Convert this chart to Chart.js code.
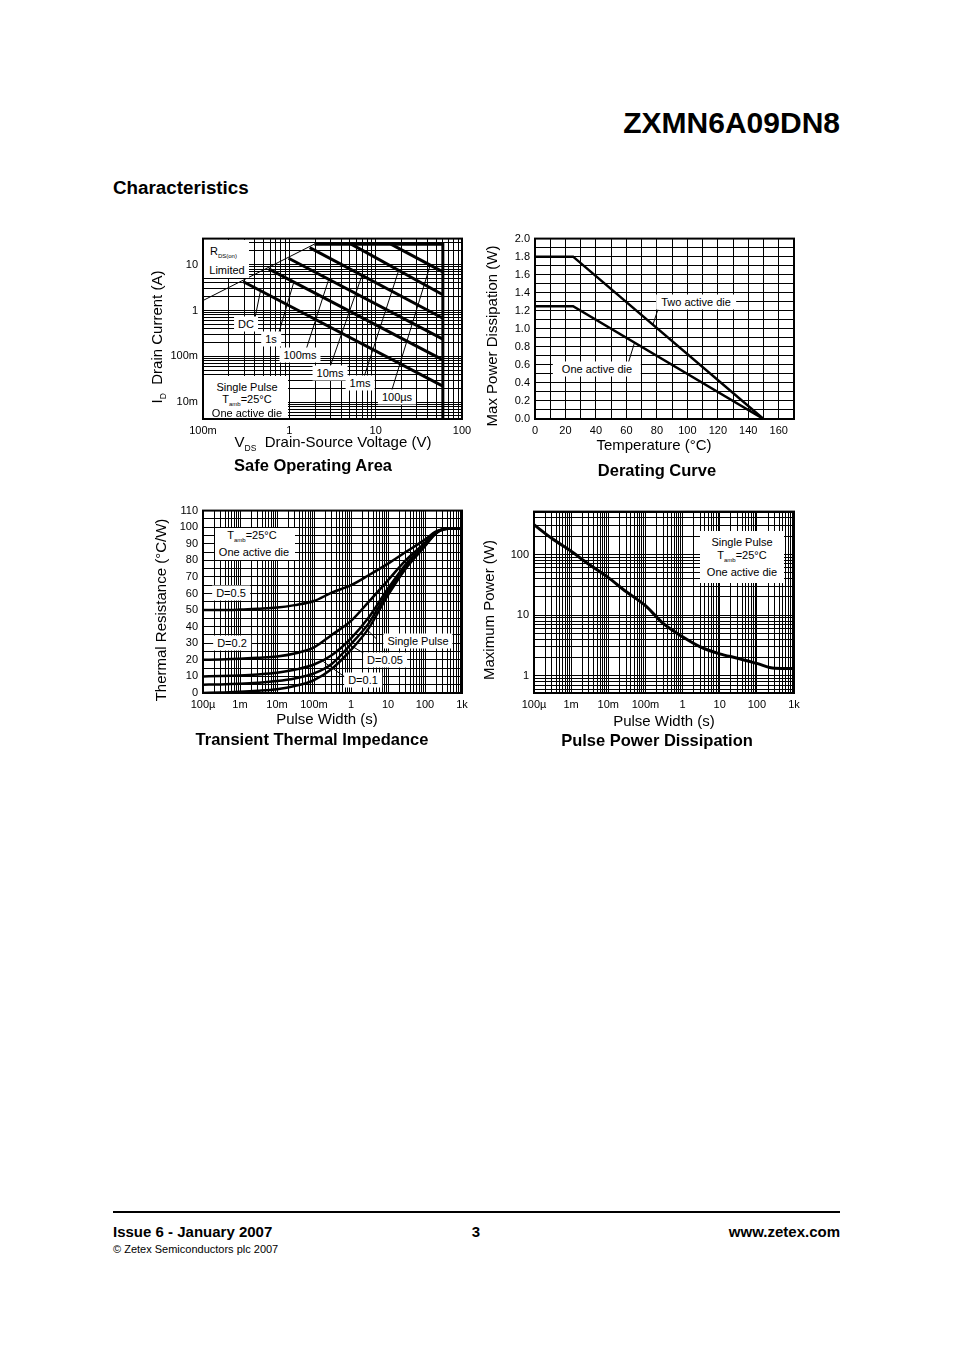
<!DOCTYPE html>
<html>
<head>
<meta charset="utf-8">
<script src="https://cdn.jsdelivr.net/npm/chart.js@4.4.1/dist/chart.umd.min.js"></script>
<style>
html,body{margin:0;padding:0;background:#fff;}
#page{position:relative;width:954px;height:1350px;overflow:hidden;font-family:"Liberation Sans",Arial,Helvetica,sans-serif;color:#000;}
#page canvas{position:absolute;}
.t{position:absolute;white-space:nowrap;line-height:1;}
.c{transform:translate(-50%,-50%);}
.r{transform:translate(-100%,-50%);}
.l{transform:translate(0,-50%);}
.rot{transform:translate(-50%,-50%) rotate(-90deg);}
.box{position:absolute;background:#fff;}
.lab{background:#fff;padding:2px 4px;font-size:11px;}
.a11{font-size:11px;}
.sb{font-size:6px;vertical-align:-3px;}
.sb2{font-size:8.5px;vertical-align:-4px;}
.axt{font-size:15px;}
.ttl{font-size:16.5px;font-weight:bold;}
</style>
</head>
<body>
<div id="page">
  <canvas id="soa"></canvas>
  <canvas id="derating"></canvas>
  <canvas id="tti"></canvas>
  <canvas id="ppd"></canvas>

  <!-- header -->
  <div class="t r" style="left:840px;top:123px;font-size:30px;font-weight:bold;">ZXMN6A09DN8</div>
  <div class="t l" style="left:113px;top:188px;font-size:18.8px;font-weight:bold;">Characteristics</div>

  <!-- SOA annotations -->
  <div class="box" style="left:204px;top:240px;width:45px;height:38px;"></div>
  <div class="t a11" style="left:210px;top:246px;">R<span class="sb">DS(on)</span></div>
  <div class="t c a11" style="left:227px;top:270px;">Limited</div>
  <div class="box" style="left:204px;top:376px;width:84px;height:42px;"></div>
  <div class="t c a11" style="left:247px;top:387px;">Single Pulse</div>
  <div class="t c a11" style="left:247px;top:400px;">T<span class="sb">amb</span>=25°C</div>
  <div class="t c a11" style="left:247px;top:413px;">One active die</div>
  <div class="t c lab" style="left:246px;top:324px;">DC</div>
  <div class="t c lab" style="left:271px;top:339px;">1s</div>
  <div class="t c lab" style="left:300px;top:354.5px;">100ms</div>
  <div class="t c lab" style="left:330px;top:372.5px;">10ms</div>
  <div class="t c lab" style="left:360px;top:382.5px;">1ms</div>
  <div class="t c lab" style="left:397px;top:397px;">100µs</div>
  <div class="t rot axt" style="left:158px;top:337px;">I<span class="sb2">D</span>&nbsp;&nbsp;Drain Current (A)</div>
  <div class="t c axt" style="left:333px;top:443px;">V<span class="sb2">DS</span>&nbsp;&nbsp;Drain-Source Voltage (V)</div>
  <div class="t c ttl" style="left:313px;top:465px;">Safe Operating Area</div>

  <!-- Derating annotations -->
  <div class="t c lab" style="left:696px;top:301.5px;padding:2px 5px;">Two active die</div>
  <div class="t c lab" style="left:597px;top:368.5px;padding:2px 9px;">One active die</div>
  <div class="t rot axt" style="left:491px;top:336px;">Max Power Dissipation (W)</div>
  <div class="t c axt" style="left:654px;top:444px;">Temperature (°C)</div>
  <div class="t c ttl" style="left:657px;top:470px;">Derating Curve</div>

  <!-- TTI annotations -->
  <div class="box" style="left:215px;top:528px;width:80px;height:32px;"></div>
  <div class="t c a11" style="left:252px;top:536px;">T<span class="sb">amb</span>=25°C</div>
  <div class="t c a11" style="left:254px;top:552px;">One active die</div>
  <div class="t c lab" style="left:231px;top:593px;">D=0.5</div>
  <div class="t c lab" style="left:232px;top:642.5px;">D=0.2</div>
  <div class="t c lab" style="left:418px;top:641px;">Single Pulse</div>
  <div class="t c lab" style="left:385px;top:660px;">D=0.05</div>
  <div class="t c lab" style="left:363px;top:680px;">D=0.1</div>
  <div class="t rot axt" style="left:160px;top:610px;">Thermal Resistance (°C/W)</div>
  <div class="t c axt" style="left:327px;top:718px;">Pulse Width (s)</div>
  <div class="t c ttl" style="left:312px;top:739px;">Transient Thermal Impedance</div>

  <!-- PPD annotations -->
  <div class="box" style="left:700px;top:531px;width:84px;height:52px;"></div>
  <div class="t c a11" style="left:742px;top:541.5px;">Single Pulse</div>
  <div class="t c a11" style="left:742px;top:556px;">T<span class="sb">amb</span>=25°C</div>
  <div class="t c a11" style="left:742px;top:572px;">One active die</div>
  <div class="t rot axt" style="left:488px;top:610px;">Maximum Power (W)</div>
  <div class="t c axt" style="left:664px;top:720px;">Pulse Width (s)</div>
  <div class="t c ttl" style="left:657px;top:740px;">Pulse Power Dissipation</div>

  <!-- footer -->
  <div style="position:absolute;left:113px;top:1211px;width:727px;height:2px;background:#000;"></div>
  <div class="t l" style="left:113px;top:1231px;font-size:15px;font-weight:bold;">Issue 6 - January 2007</div>
  <div class="t c" style="left:476px;top:1231px;font-size:15px;font-weight:bold;">3</div>
  <div class="t r" style="left:840px;top:1231px;font-size:15px;font-weight:bold;">www.zetex.com</div>
  <div class="t l" style="left:113px;top:1249px;font-size:11px;">© Zetex Semiconductors plc 2007</div>
</div>

<script>
// ---------------- DATA ----------------
// Safe Operating Area (V in volts, I in amps)
const soaRdsV = [0.1, 1.95];
const soaRdsI = [1.65, 28];
const soaLimitV = [1.95, 60, 60];
const soaLimitI = [28, 28, 0.004];
const soaPulseNames = ['DC', '1s', '100ms', '10ms', '1ms', '100µs'];
const soaPulseStartV = [0.29, 0.575, 0.98, 1.72, 5.2, 15];
const soaPulseStartI = [4.3, 8.1, 13.8, 23.5, 28, 28];
const soaPulseEndV = [60, 60, 60, 60, 60, 60];
const soaPulseEndI = [0.0225, 0.084, 0.237, 0.676, 2.2, 6.95];
const soaLeaderFromV = [0.387, 0.752, 1.53, 2.98, 7.23, 15.4];
const soaLeaderFromI = [0.506, 0.319, 0.124, 0.0608, 0.0328, 0.0184];
const soaLeaderToV = [0.462, 1.12, 2.85, 6.92, 18.4, 42.7];
const soaLeaderToI = [2.6, 4.0, 4.7, 5.7, 7.3, 9.5];
const soaXTickValues = [0.1, 1, 10, 100];
const soaXTickLabels = ['100m', '1', '10', '100'];
const soaYTickValues = [0.01, 0.1, 1, 10];
const soaYTickLabels = ['10m', '100m', '1', '10'];

// Derating curve (temperature °C, power W)
const deratingTemp = [0, 25, 150];
const deratingTwoDie = [1.8, 1.8, 0];
const deratingOneDie = [1.25, 1.25, 0];
const deratingLeaderFromT = [77.4, 61.2];
const deratingLeaderFromP = [1.045, 0.62];
const deratingLeaderToT = [80.7, 65.3];
const deratingLeaderToP = [1.215, 0.845];
const deratingXTickValues = [0, 20, 40, 60, 80, 100, 120, 140, 160];
const deratingXTickLabels = ['0', '20', '40', '60', '80', '100', '120', '140', '160'];
const deratingYTickValues = [0, 0.2, 0.4, 0.6, 0.8, 1.0, 1.2, 1.4, 1.6, 1.8, 2.0];
const deratingYTickLabels = ['0.0', '0.2', '0.4', '0.6', '0.8', '1.0', '1.2', '1.4', '1.6', '1.8', '2.0'];

// Transient thermal impedance (pulse width s, °C/W)
const ttiPulseWidth = [1e-4, 3e-4, 1e-3, 3e-3, 1e-2, 3e-2, 0.1, 0.3, 1, 3, 10, 30, 100, 200, 400, 1000];
const ttiD05   = [50, 50, 50.3, 50.8, 51.5, 53, 55.5, 60.5, 65, 71, 78, 85, 92.5, 97.5, 99, 99];
const ttiD02   = [20, 20.2, 20.6, 21.2, 22, 23.8, 27.5, 35, 43.5, 55, 68, 80, 90.5, 97, 99, 99];
const ttiD01   = [10, 10.2, 10.6, 11.2, 12.2, 14, 17.2, 22.8, 33, 45.5, 63, 77.5, 89.5, 96.5, 99, 99];
const ttiD005  = [5, 5.2, 5.6, 6.2, 7.2, 8.8, 11.8, 17.5, 29.5, 42, 61, 76, 89, 96.5, 99, 99];
const ttiSingle = [0, 0.3, 0.7, 1.3, 2.3, 4.2, 7.8, 14.5, 26, 39, 59, 75, 88.5, 96.3, 99, 99];
const ttiLeaderFromT = [4.9, 2.37, 0.684];
const ttiLeaderFromR = [32.6, 23.6, 9.6];
const ttiLeaderToT = [2.63, 0.933, 0.178];
const ttiLeaderToR = [38.5, 29.0, 19.0];
const ttiYTickValues = [0, 10, 20, 30, 40, 50, 60, 70, 80, 90, 100, 110];
const ttiYTickLabels = ['0', '10', '20', '30', '40', '50', '60', '70', '80', '90', '100', '110'];
const timeTickValues = [1e-4, 1e-3, 1e-2, 0.1, 1, 10, 100, 1000];
const timeTickLabels = ['100µ', '1m', '10m', '100m', '1', '10', '100', '1k'];

// Pulse power dissipation (pulse width s, W)
const ppdPulseWidth = [1e-4, 3e-4, 1e-3, 3e-3, 1e-2, 3e-2, 0.1, 0.3, 1, 3, 10, 30, 100, 300, 1000];
const ppdPower = [310, 185, 113, 69, 41.5, 24.5, 14.3, 7.3, 4.4, 3.0, 2.3, 1.95, 1.6, 1.33, 1.32];
const ppdYTickValues = [1, 10, 100];
const ppdYTickLabels = ['1', '10', '100'];

// ---------------- HELPERS ----------------
Chart.defaults.font.family = '"Liberation Sans", Arial, Helvetica, sans-serif';
Chart.defaults.font.size = 11;
Chart.defaults.color = '#000';

const Y_AXIS_W = 70, PAD_T = 10, PAD_R = 16, X_AXIS_H = 24;

function pts(xs, ys) { return xs.map((x, i) => ({ x: x, y: ys[i] })); }

function logGrid(min, max) {
  const out = [];
  for (let e = -6; e <= 4; e++) {
    for (let m = 1; m <= 9; m++) {
      const v = m * Math.pow(10, e);
      if (v >= min * 0.9999 && v <= max * 1.0001) out.push(v);
    }
  }
  return out;
}
function linGrid(min, max, step) {
  const out = [];
  const n = Math.round((max - min) / step);
  for (let i = 0; i <= n; i++) out.push(Math.round((min + i * step) * 1e6) / 1e6);
  return out;
}
function labelFor(v, vals, labels, isLog) {
  const i = vals.findIndex(t => isLog ? Math.abs(Math.log10(t) - Math.log10(v)) < 1e-6 : Math.abs(t - v) < 1e-6);
  return i >= 0 ? labels[i] : '';
}
function axis(kind, isLog, min, max, gridVals, tickVals, tickLabels) {
  return {
    type: isLog ? 'logarithmic' : 'linear',
    position: kind === 'x' ? 'bottom' : 'left',
    min: min, max: max, bounds: 'data',
    grid: { color: '#000', lineWidth: 1, drawTicks: false },
    border: { display: false },
    ticks: {
      autoSkip: false, maxRotation: 0, minRotation: 0, padding: 5,
      font: { size: 11 }, color: '#000',
      callback: (v) => labelFor(v, tickVals, tickLabels, isLog)
    },
    afterBuildTicks: (s) => { s.ticks = gridVals.map(v => ({ value: v })); },
    afterFit: (s) => { if (kind === 'x') s.height = X_AXIS_H; else s.width = Y_AXIS_W; }
  };
}
const framePlugin = {
  id: 'frame',
  beforeDatasetsDraw(chart) {
    const a = chart.chartArea, ctx = chart.ctx;
    ctx.save();
    ctx.strokeStyle = '#000';
    ctx.lineWidth = 2;
    ctx.strokeRect(a.left, a.top, a.right - a.left, a.bottom - a.top);
    ctx.restore();
  }
};
function leaderPlugin(fx, fy, tx, ty) {
  return {
    id: 'leaders',
    afterDatasetsDraw(chart) {
      const ctx = chart.ctx, xs = chart.scales.x, ys = chart.scales.y;
      ctx.save();
      ctx.strokeStyle = '#000';
      ctx.lineWidth = 1;
      for (let i = 0; i < fx.length; i++) {
        ctx.beginPath();
        ctx.moveTo(xs.getPixelForValue(fx[i]), ys.getPixelForValue(fy[i]));
        ctx.lineTo(xs.getPixelForValue(tx[i]), ys.getPixelForValue(ty[i]));
        ctx.stroke();
      }
      ctx.restore();
    }
  };
}
function ds(data, width, smooth) {
  return {
    data: data, borderColor: '#000', backgroundColor: '#000', borderWidth: width,
    pointRadius: 0, fill: false, tension: 0,
    cubicInterpolationMode: smooth ? 'monotone' : 'default',
    borderCapStyle: 'butt', borderJoinStyle: 'miter'
  };
}
function makeChart(id, rect, datasets, xAxis, yAxis, extraPlugins) {
  const cv = document.getElementById(id);
  const w = rect.r - rect.l + Y_AXIS_W + PAD_R;
  const h = rect.b - rect.t + PAD_T + X_AXIS_H;
  cv.width = w; cv.height = h;
  cv.style.width = w + 'px'; cv.style.height = h + 'px';
  cv.style.left = (rect.l - Y_AXIS_W) + 'px';
  cv.style.top = (rect.t - PAD_T) + 'px';
  return new Chart(cv, {
    type: 'line',
    data: { datasets: datasets },
    options: {
      responsive: false, animation: false, devicePixelRatio: window.devicePixelRatio || 1,
      layout: { padding: { top: PAD_T, right: PAD_R, left: 0, bottom: 0 } },
      plugins: { legend: { display: false }, tooltip: { enabled: false } },
      scales: { x: xAxis, y: yAxis }
    },
    plugins: [framePlugin].concat(extraPlugins || [])
  });
}

// ---------------- CHARTS ----------------
// Safe operating area
const soaSets = [ds(pts(soaRdsV, soaRdsI), 1, false), ds(pts(soaLimitV, soaLimitI), 3, false)];
for (let i = 0; i < soaPulseNames.length; i++) {
  soaSets.push(ds(pts([soaPulseStartV[i], soaPulseEndV[i]], [soaPulseStartI[i], soaPulseEndI[i]]), 3, false));
}
makeChart('soa', { l: 203, t: 237, r: 462, b: 419 }, soaSets,
  axis('x', true, 0.1, 100, logGrid(0.1, 100), soaXTickValues, soaXTickLabels),
  axis('y', true, 0.0043, 37, logGrid(0.0043, 37), soaYTickValues, soaYTickLabels),
  [leaderPlugin(soaLeaderFromV, soaLeaderFromI, soaLeaderToV, soaLeaderToI)]);

// Derating curve
makeChart('derating', { l: 535, t: 237, r: 794, b: 419 },
  [ds(pts(deratingTemp, deratingTwoDie), 2.5, false), ds(pts(deratingTemp, deratingOneDie), 2.5, false)],
  axis('x', false, 0, 170, linGrid(0, 170, 10), deratingXTickValues, deratingXTickLabels),
  axis('y', false, 0, 2.0, linGrid(0, 2.0, 0.1), deratingYTickValues, deratingYTickLabels),
  [leaderPlugin(deratingLeaderFromT, deratingLeaderFromP, deratingLeaderToT, deratingLeaderToP)]);

// Transient thermal impedance
makeChart('tti', { l: 203, t: 509, r: 462, b: 693 },
  [ttiD05, ttiD02, ttiD01, ttiD005, ttiSingle].map(s => ds(pts(ttiPulseWidth, s), 2.5, true)),
  axis('x', true, 1e-4, 1000, logGrid(1e-4, 1000), timeTickValues, timeTickLabels),
  axis('y', false, 0, 110, linGrid(0, 110, 5), ttiYTickValues, ttiYTickLabels),
  [leaderPlugin(ttiLeaderFromT, ttiLeaderFromR, ttiLeaderToT, ttiLeaderToR)]);

// Pulse power dissipation
makeChart('ppd', { l: 534, t: 510, r: 794, b: 693 },
  [ds(pts(ppdPulseWidth, ppdPower), 3, true)],
  axis('x', true, 1e-4, 1000, logGrid(1e-4, 1000), timeTickValues, timeTickLabels),
  axis('y', true, 0.52, 510, logGrid(0.52, 510), ppdYTickValues, ppdYTickLabels),
  []);
</script>
</body>
</html>
